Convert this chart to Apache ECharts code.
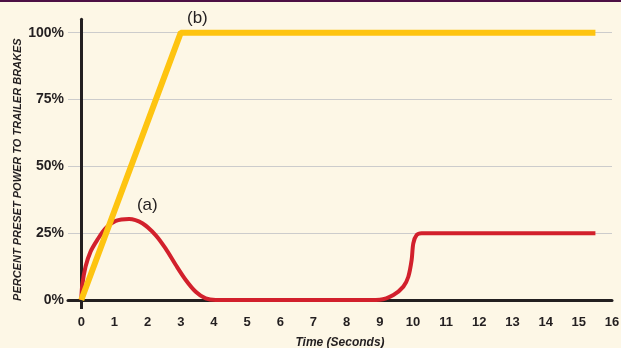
<!DOCTYPE html>
<html>
<head>
<meta charset="utf-8">
<script src="https://cdn.jsdelivr.net/npm/echarts@6/dist/echarts.min.js"></script>
<style>
  html, body { margin: 0; padding: 0; background: #fdf7e6; }
  #chart { width: 621px; height: 348px; }
</style>
</head>
<body>
<div id="chart"></div>
<script>
// ---- data ----
const xTickValues = [0,1,2,3,4,5,6,7,8,9,10,11,12,13,14,15,16];
const yTickValues = [0,25,50,75,100];

// curve (a): red, time in seconds -> percent
const seriesATime = [0,0.03,0.13,0.28,0.48,0.73,1.04,1.44,1.84,2.24,2.54,2.85,3.15,3.45,3.75,4.05,4.4,8.7,9.0,9.41,9.71,9.86,9.96,10.01,10.11,10.26,10.5,15.5];
const seriesAValue = [0,5.6,12.5,18.1,22.4,26.8,29.6,30.3,28.7,24.3,19.3,13.1,7.5,3.1,0.6,0,0,0,0.1,1.9,5.0,8.7,15.0,21.2,24.3,25.0,25,25];

// curve (b): yellow
const seriesBTime = [0,3,15.5];
const seriesBValue = [0,100,100];

// annotation labels
const labelA = { text: '(a)', at: [1.99, 35.4] };
const labelB = { text: '(b)', at: [3.5, 105] };

const pair = (xs, ys) => xs.map((x, i) => [x, ys[i]]);

const chart = echarts.init(document.getElementById('chart'), null, { renderer: 'canvas' });
const dark = '#231f20';
const sans = 'Liberation Sans, Arial, sans-serif';
const annoLabel = {
  show: true, position: 'inside', color: dark,
  fontFamily: sans, fontSize: 17
};

chart.setOption({
  backgroundColor: '#fdf7e6',
  animation: false,
  graphic: [{
    type: 'rect', left: 0, top: 0,
    shape: { width: 621, height: 2 },
    style: { fill: '#4d1045' }, z: 100
  }],
  grid: { left: 68, right: 9, top: 19.3, bottom: 48, containLabel: false, outerBoundsMode: 'none' },
  xAxis: {
    type: 'value', min: -0.4, max: 16, interval: 0.4,
    name: 'Time (Seconds)', nameLocation: 'middle', nameGap: 37, nameMoveOverlap: false,
    nameTextStyle: { fontFamily: sans, fontWeight: 'bold', fontStyle: 'italic', fontSize: 12, color: dark },
    axisLine: { show: true, onZero: true, lineStyle: { color: dark, width: 3 } },
    axisTick: { show: true, customValues: [0], length: 9, lineStyle: { color: dark, width: 3 } },
    axisLabel: { customValues: xTickValues, margin: 16, color: dark, fontFamily: sans, fontWeight: 'bold', fontSize: 13 },
    splitLine: { show: false }
  },
  yAxis: {
    type: 'value', min: 0, max: 105, interval: 5,
    name: 'PERCENT PRESET POWER TO TRAILER BRAKES', nameLocation: 'middle', nameGap: 44.5, nameMoveOverlap: false,
    nameTextStyle: { fontFamily: sans, fontWeight: 'bold', fontStyle: 'italic', fontSize: 11, color: dark, padding: [0, 20, 0, 0] },
    axisLine: { show: true, onZero: true, lineStyle: { color: dark, width: 3 } },
    axisTick: { show: false, customValues: yTickValues },
    axisLabel: { customValues: yTickValues, margin: 4, color: dark, fontFamily: sans, fontWeight: 'bold', fontSize: 14, formatter: v => v + '%' },
    splitLine: { show: true, lineStyle: { color: '#cccccc', width: 1.2 } }
  },
  series: [
    {
      name: '(a)', type: 'line', data: pair(seriesATime, seriesAValue),
      showSymbol: false, smooth: 0.3, clip: false,
      lineStyle: { color: '#d2202c', width: 4 },
      markPoint: {
        symbol: 'circle', symbolSize: 0, silent: true,
        label: Object.assign({ formatter: labelA.text }, annoLabel),
        data: [{ coord: labelA.at }]
      }
    },
    {
      name: '(b)', type: 'line', data: pair(seriesBTime, seriesBValue),
      showSymbol: false, clip: false,
      lineStyle: { color: '#fec410', width: 6 },
      markPoint: {
        symbol: 'circle', symbolSize: 0, silent: true,
        label: Object.assign({ formatter: labelB.text, offset: [0, -1] }, annoLabel),
        data: [{ coord: labelB.at }]
      }
    }
  ]
});
</script>
</body>
</html>
